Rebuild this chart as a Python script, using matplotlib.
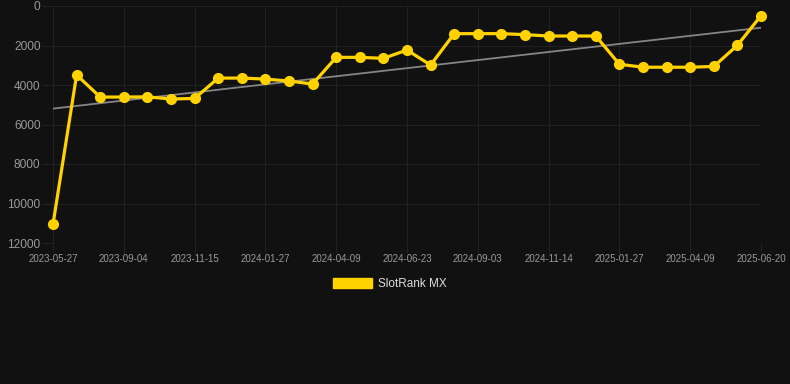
import matplotlib
matplotlib.use('Agg')
import matplotlib.pyplot as plt
import numpy as np

plt.rcParams['font.family'] = ['Liberation Sans', 'DejaVu Sans']

# Rank values (lower is better, axis inverted)
rank = [11050, 3490, 4610, 4610, 4600, 4710, 4680, 3650, 3650, 3700,
        3800, 3950, 2600, 2600, 2650, 2230, 2990, 1400, 1400, 1400,
        1450, 1520, 1520, 1520, 2950, 3100, 3100, 3100, 3060, 1990, 490]
tick_labels = ['2023-05-27', '2023-09-04', '2023-11-15', '2024-01-27',
               '2024-04-09', '2024-06-23', '2024-09-03', '2024-11-14',
               '2025-01-27', '2025-04-09', '2025-06-20']
y_ticks = [0, 2000, 4000, 6000, 8000, 10000, 12000]
series_name = 'SlotRank MX'

bg = '#111111'
grid_col = '#212121'
gold = '#FFD200'

x = np.arange(len(rank))
tick_pos = x[::3]

# linear trend of the series
coef = np.polyfit(x, rank, 1)
trend = np.polyval(coef, x)

fig = plt.figure(figsize=(7.9, 3.84), dpi=100, facecolor=bg)
ax = fig.add_axes([53 / 790, 1 - 243 / 384, (761 - 53) / 790, (243 - 6) / 384])
ax.set_facecolor(bg)

ax.plot(x, trend, color='#858585', lw=1.3, zorder=2)
ax.plot(x, rank, color=gold, lw=2.3, marker='o', ms=7, zorder=3,
        label=series_name, clip_on=False)

ax.set_xlim(0, len(rank) - 1)
ax.set_ylim(12000, 0)
ax.set_yticks(y_ticks)
ax.set_yticklabels([str(v) for v in y_ticks])
ax.set_xticks(tick_pos)
ax.set_xticklabels(tick_labels)

ax.grid(True, color=grid_col, lw=0.8)
for s in ax.spines.values():
    s.set_visible(False)
ax.tick_params(axis='y', colors=grid_col, length=8, width=0.8, labelcolor='#999999',
               labelsize=8.6, pad=1)
ax.tick_params(axis='x', colors=grid_col, length=7, width=0.8, labelcolor='#999999',
               labelsize=7, pad=1)

# legend: filled box with label below the plot
handle = plt.Rectangle((0, 0), 1, 1, color=gold)
fig.legend([handle], [series_name], loc='center', bbox_to_anchor=(390 / 790, 1 - 284 / 384),
           frameon=False, fontsize=8.5, labelcolor='#dddddd', handlelength=3.3,
           handleheight=0.9, handletextpad=0.5)

fig.savefig('out.png', dpi=100, facecolor=bg)
